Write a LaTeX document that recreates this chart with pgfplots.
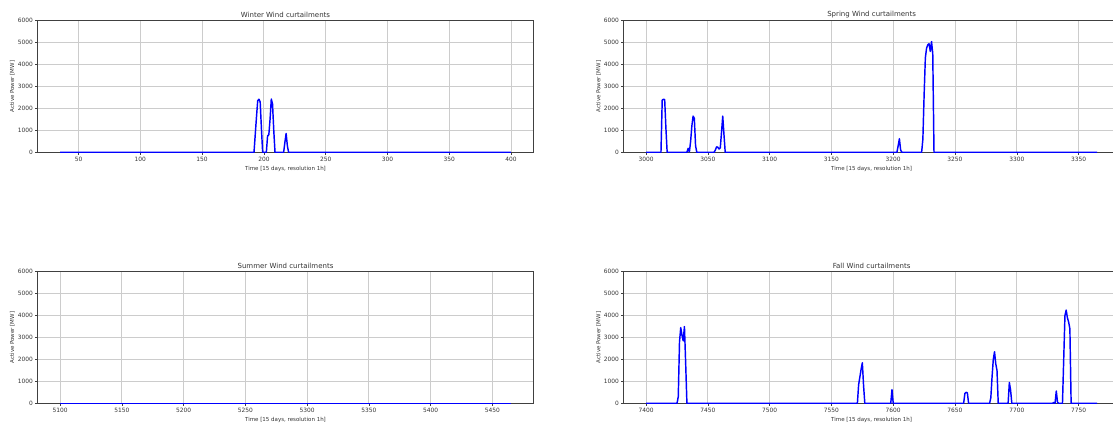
\documentclass[border=0pt]{standalone}
\usepackage{pgfplots}
\pgfplotsset{compat=1.18}
\usepackage{fontspec}
\setmainfont{DejaVu Sans}
\definecolor{gridc}{gray}{0.8}
\definecolor{framec}{gray}{0.25}
\definecolor{textc}{gray}{0.2}
\pgfplotsset{
  curt/.style={
    scale only axis,
    width=496pt, height=131.6pt,
    anchor=south west,
    ymin=0, ymax=6000,
    ytick={0,1000,2000,3000,4000,5000,6000},
    grid=major,
    major grid style={draw=gridc, line width=0.9pt},
    axis line style={draw=framec, line width=0.7pt},
    tick align=outside,
    major tick length=2.2pt,
    tick style={draw=framec, line width=0.5pt},
    xtick pos=bottom, ytick pos=left,
    /pgf/number format/assume math mode=true,
    /pgf/number format/1000 sep={},
    ticklabel style={font=\fontsize{5.9}{6.5}\selectfont, text=textc},
    xticklabel style={yshift=0.5pt},
    yticklabel style={xshift=1pt},
    title style={font=\fontsize{7}{8}\selectfont, text=textc, yshift=-6.5pt},
    label style={font=\fontsize{5.5}{6}\selectfont, text=textc},
    xlabel={Time [15 days, resolution 1h]},
    ylabel={Active Power [MW]},
    xlabel style={yshift=2.5pt},
    ylabel style={yshift=-4pt},
  },
  curtline/.style={blue, line width=1.45pt, mark=none, sharp plot, line join=round},
}
\begin{document}
\begin{tikzpicture}
\useasboundingbox (0,0) rectangle (1113pt,424pt);
\clip (0,0) rectangle (1113pt,424pt);
% Winter
\begin{axis}[curt, at={(37.5pt,271.7pt)},
  xmin=16.75, xmax=418.25, xtick={50,100,...,400},
  title={Winter Wind curtailments}]
\addplot[curtline] coordinates {
(35,0)(192,0)(193,800)(194,1600)(195,2350)(196,2420)(197,2300)(198,1100)(199,0)
(202,0)(203,750)(204,800)(205,1500)(206,2430)(207,2200)(208,1000)(209,0)
(216,0)(217,450)(218,860)(219,300)(220,0)(400,0)};
\end{axis}
% Spring
\begin{axis}[curt, at={(623.6pt,271.7pt)},
  xmin=2981.75, xmax=3383.25, xtick={3000,3050,...,3350},
  title={Spring Wind curtailments}]
\addplot[curtline] coordinates {
(3000,0)(3012,0)(3013,2380)(3014,2420)(3015,2400)(3016,1100)(3017,0)
(3033,0)(3034,180)(3035,20)(3036,500)(3037,1200)(3038,1650)(3039,1550)(3040,300)(3041,0)
(3055,0)(3056,100)(3057,250)(3058,230)(3059,150)(3060,200)(3061,900)(3062,1650)(3063,800)(3064,0)
(3203,0)(3204,300)(3205,620)(3206,100)(3207,0)
(3223,0)(3224,600)(3225,2600)(3226,4300)(3227,4750)(3228,4900)(3229,4950)(3230,4600)(3231,5050)(3232,4500)(3233,0)
(3365,0)};
\end{axis}
% Summer
\begin{axis}[curt, at={(37.5pt,20.7pt)},
  xmin=5081.75, xmax=5483.25, xtick={5100,5150,...,5450},
  title={Summer Wind curtailments}]
\addplot[curtline] coordinates {(5100,0)(5465,0)};
\end{axis}
% Fall
\begin{axis}[curt, at={(623.6pt,20.7pt)},
  xmin=7381.75, xmax=7783.25, xtick={7400,7450,...,7750},
  title={Fall Wind curtailments}]
\addplot[curtline] coordinates {
(7400,0)(7425,0)(7426,300)(7427,2800)(7428,3450)(7429,3100)(7430,2850)(7431,3500)(7432,1800)(7433,0)
(7571,0)(7572,850)(7573,1200)(7574,1550)(7575,1850)(7576,800)(7577,0)
(7598,0)(7599,620)(7600,0)
(7657,0)(7658,450)(7659,500)(7660,480)(7661,0)
(7678,0)(7679,250)(7680,1200)(7681,2000)(7682,2350)(7683,1800)(7684,1500)(7685,0)
(7693,0)(7694,950)(7695,600)(7696,0)
(7729,0)(7730,40)(7731,0)(7732,560)(7733,50)(7734,0)
(7737,0)(7738,2000)(7739,4000)(7740,4250)(7741,3900)(7742,3700)(7743,3400)(7744,0)
(7765,0)};
\end{axis}
\end{tikzpicture}
\end{document}
